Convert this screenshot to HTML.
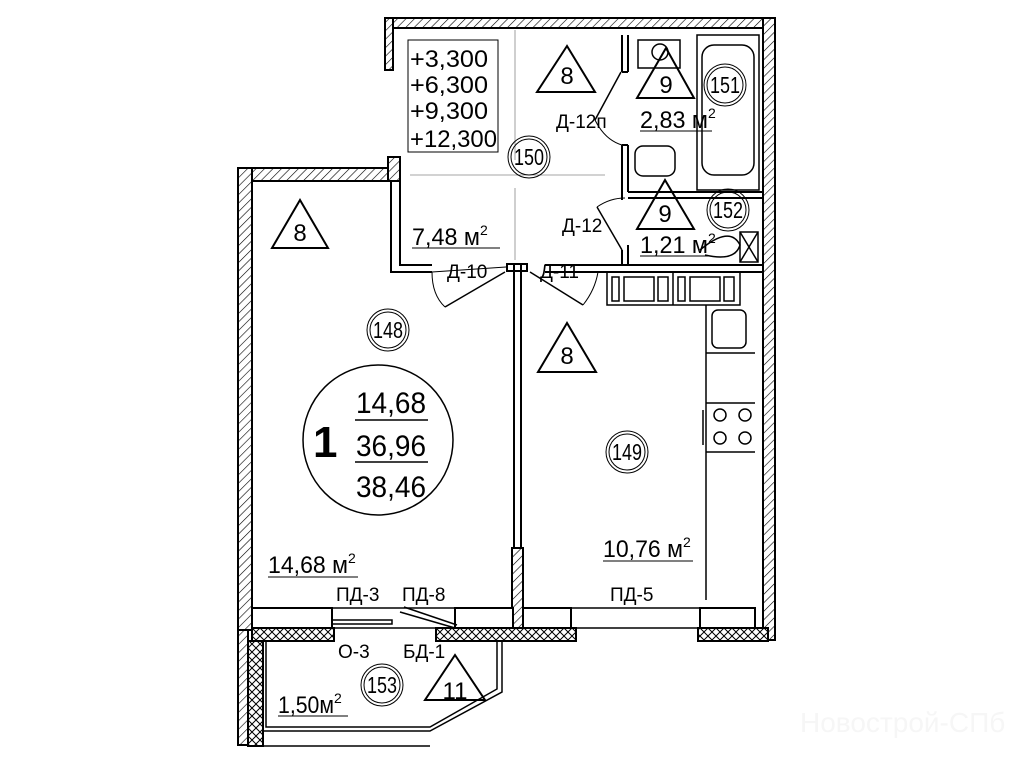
<!DOCTYPE html>
<html><head><meta charset="utf-8"><style>
html,body{margin:0;padding:0;background:#fff;}
svg{display:block}
text{font-family:"Liberation Sans",sans-serif;fill:#000}
</style></head><body>
<svg width="1011" height="768" viewBox="0 0 1011 768" xmlns="http://www.w3.org/2000/svg">
<defs>
<pattern id="h" width="6" height="6" patternUnits="userSpaceOnUse" patternTransform="rotate(45)">
<rect width="6" height="6" fill="#fff"/><line x1="0" y1="0" x2="0" y2="6" stroke="#000" stroke-width="1.2"/>
</pattern>
<pattern id="x" width="8" height="8" patternUnits="userSpaceOnUse">
<rect width="8" height="8" fill="#fff"/><path d="M0 0L8 8M8 0L0 8" stroke="#000" stroke-width="1"/>
</pattern>
</defs>
<g stroke="#000" stroke-width="2" fill="url(#h)">
<rect x="385" y="18" width="390" height="10"/>
<rect x="385" y="18" width="8" height="52"/>
<rect x="763" y="18" width="12" height="622"/>
<rect x="238" y="168" width="162" height="13"/>
<rect x="388" y="157" width="12" height="24"/>
<rect x="238" y="168" width="14" height="462"/>
<rect x="238" y="630" width="10" height="115"/>
<rect x="512" y="548" width="11" height="80"/>
</g>
<g stroke="#000" stroke-width="2" fill="none">
<path d="M391 181V272H432M400 181V265H432"/>
<path d="M514 265V548M521 265V548"/>
<rect x="507" y="264" width="20" height="7"/>
<path d="M545 265H763M545 272H763"/>
<path d="M622 35V72M628 35V72M622 72H628"/>
<path d="M622 145V192M628 145V192M622 145H628"/>
<path d="M628 192H763M628 198H763"/>
<path d="M622 192V200"/>
<path d="M622 250V265M628 245V265"/>
<path d="M621 72L595 120" stroke-width="1.5"/>
<path d="M595 120Q605 140 622 145" stroke-width="1"/>
<path d="M597 207L622 250" stroke-width="1.5"/>
<path d="M597 207Q610 198 625 198" stroke-width="1"/>
<path d="M432 272L506 267" stroke-width="1"/>
<path d="M445 307L505 272" stroke-width="1.5"/>
<path d="M432 272Q432 295 445 307" stroke-width="1"/>
<path d="M530 272L583 305" stroke-width="1.5"/>
<path d="M583 305Q595 290 598 272" stroke-width="1"/>
<path d="M515 30V160M515 188V260M410 175H605" stroke="#888" stroke-width="0.8"/>
</g>
<rect x="408" y="40" width="90" height="112" fill="none" stroke="#000" stroke-width="1"/>
<g font-size="24">
<text x="410" y="67" textLength="78" lengthAdjust="spacingAndGlyphs">+3,300</text>
<text x="410" y="93" textLength="78" lengthAdjust="spacingAndGlyphs">+6,300</text>
<text x="410" y="119" textLength="78" lengthAdjust="spacingAndGlyphs">+9,300</text>
<text x="410" y="147" textLength="87" lengthAdjust="spacingAndGlyphs">+12,300</text>
</g>
<g stroke="#000" stroke-width="2">
<rect x="252" y="608" width="80" height="20" fill="#fff"/>
<rect x="455" y="608" width="58" height="20" fill="#fff"/>
<rect x="523" y="608" width="48" height="20" fill="#fff"/>
<rect x="700" y="608" width="55" height="20" fill="#fff"/>
<rect x="252" y="628" width="82" height="13" fill="url(#x)"/>
<rect x="436" y="628" width="140" height="13" fill="url(#x)"/>
<rect x="698" y="628" width="70" height="13" fill="url(#x)"/>
<rect x="248" y="641" width="15" height="105" fill="url(#x)"/>
</g>
<g stroke="#000" stroke-width="1.5" fill="none">
<path d="M332 608H455M332 628H436M576 628H698M571 608H700"/>
<rect x="332" y="620" width="60" height="4"/>
<path d="M400 612L455 628M404 607L457 625"/>
<path d="M263 641V731H430L502 692V641M266 641V727H430L497 689V641"/>
<path d="M263 746H430"/>
</g>
<g stroke="#000" stroke-width="1.5" fill="none">
<rect x="607" y="272" width="133" height="33"/>
<path d="M673 272V305"/>
<rect x="612" y="277" width="7" height="24"/><rect x="624" y="277" width="30" height="24"/><rect x="658" y="277" width="10" height="24"/>
<rect x="678" y="277" width="7" height="24"/><rect x="690" y="277" width="30" height="24"/><rect x="724" y="277" width="10" height="24"/>
<path d="M706 305V600M706 353H755M706 403H755M706 452H755"/>
<rect x="712" y="310" width="34" height="38" rx="6"/>
<circle cx="720" cy="415" r="6"/><circle cx="745" cy="415" r="6"/><circle cx="720" cy="438" r="6"/><circle cx="745" cy="438" r="6"/>
<path d="M703 410V445"/>
<rect x="697" y="35" width="62" height="155"/>
<rect x="702" y="45" width="52" height="130" rx="12"/>
<rect x="638" y="40" width="42" height="28"/>
<circle cx="660" cy="52" r="8"/>
<rect x="635" y="146" width="40" height="30" rx="8"/>
<path d="M700 250Q730 225 740 245Q735 262 705 255"/>
<rect x="740" y="232" width="18" height="30"/>
<path d="M740 232L758 262M758 232L740 262"/>
</g>
<g stroke="#000" stroke-width="1" fill="none">
<circle cx="388" cy="330" r="18"/><circle cx="388" cy="330" r="21"/>
<circle cx="529" cy="157" r="18"/><circle cx="529" cy="157" r="21"/>
<circle cx="725" cy="85" r="18"/><circle cx="725" cy="85" r="21"/>
<circle cx="728" cy="210" r="18"/><circle cx="728" cy="210" r="21"/>
<circle cx="627" cy="452" r="18"/><circle cx="627" cy="452" r="21"/>
<circle cx="382" cy="685" r="18"/><circle cx="382" cy="685" r="21"/>
<circle cx="378" cy="440" r="75" stroke-width="1.5"/>
</g>
<g stroke="#000" stroke-width="2" fill="none">
<path d="M300 200L272 248H328Z"/>
<path d="M567 46L537 92H595Z"/>
<path d="M666 48L637 98H694Z"/>
<path d="M665 180L637 229H694Z"/>
<path d="M567 323L538 372H596Z"/>
<path d="M455 655L425 700H485Z"/>
</g>
<g font-size="24" text-anchor="middle">
<text x="300" y="241">8</text><text x="567" y="84">8</text><text x="666" y="93">9</text>
<text x="665" y="222">9</text><text x="567" y="364">8</text><text x="455" y="699">11</text>
</g>
<g font-size="23" text-anchor="middle">
<text x="388" y="338" textLength="30" lengthAdjust="spacingAndGlyphs">148</text>
<text x="529" y="165" textLength="30" lengthAdjust="spacingAndGlyphs">150</text>
<text x="725" y="93" textLength="30" lengthAdjust="spacingAndGlyphs">151</text>
<text x="728" y="218" textLength="30" lengthAdjust="spacingAndGlyphs">152</text>
<text x="627" y="460" textLength="30" lengthAdjust="spacingAndGlyphs">149</text>
<text x="382" y="693" textLength="30" lengthAdjust="spacingAndGlyphs">153</text>
</g>
<g font-size="30">
<text x="356" y="413" textLength="70" lengthAdjust="spacingAndGlyphs">14,68</text>
<text x="356" y="456" textLength="70" lengthAdjust="spacingAndGlyphs">36,96</text>
<text x="356" y="497" textLength="70" lengthAdjust="spacingAndGlyphs">38,46</text>
</g>
<path d="M355 420H428M355 462H428" stroke="#000" stroke-width="1.5"/>
<text x="313" y="457" font-size="44" font-weight="bold">1</text>
<g font-size="24">
<text x="268" y="573"><tspan textLength="80" lengthAdjust="spacingAndGlyphs">14,68 м</tspan><tspan font-size="14" dy="-10">2</tspan></text>
<text x="603" y="557"><tspan textLength="80" lengthAdjust="spacingAndGlyphs">10,76 м</tspan><tspan font-size="14" dy="-10">2</tspan></text>
<text x="412" y="245"><tspan textLength="68" lengthAdjust="spacingAndGlyphs">7,48 м</tspan><tspan font-size="14" dy="-10">2</tspan></text>
<text x="640" y="128"><tspan textLength="68" lengthAdjust="spacingAndGlyphs">2,83 м</tspan><tspan font-size="14" dy="-10">2</tspan></text>
<text x="640" y="253"><tspan textLength="68" lengthAdjust="spacingAndGlyphs">1,21 м</tspan><tspan font-size="14" dy="-10">2</tspan></text>
<text x="278" y="713"><tspan textLength="56" lengthAdjust="spacingAndGlyphs">1,50м</tspan><tspan font-size="14" dy="-10">2</tspan></text>
</g>
<g stroke="#000" stroke-width="1">
<path d="M268 577H358M603 561H693M412 248H500M640 131H712M640 256H712M278 716H348"/>
</g>
<g font-size="19">
<text x="556" y="128">Д-12п</text>
<text x="562" y="232">Д-12</text>
<text x="447" y="278">Д-10</text>
<text x="540" y="278">Д-11</text>
<text x="336" y="601">ПД-3</text>
<text x="402" y="601">ПД-8</text>
<text x="610" y="601">ПД-5</text>
<text x="338" y="658">О-3</text>
<text x="403" y="658">БД-1</text>
</g>
<text x="800" y="732" font-size="28" style="fill:#f6f6f6">Новострой-СПб</text>
</svg>
</body></html>
